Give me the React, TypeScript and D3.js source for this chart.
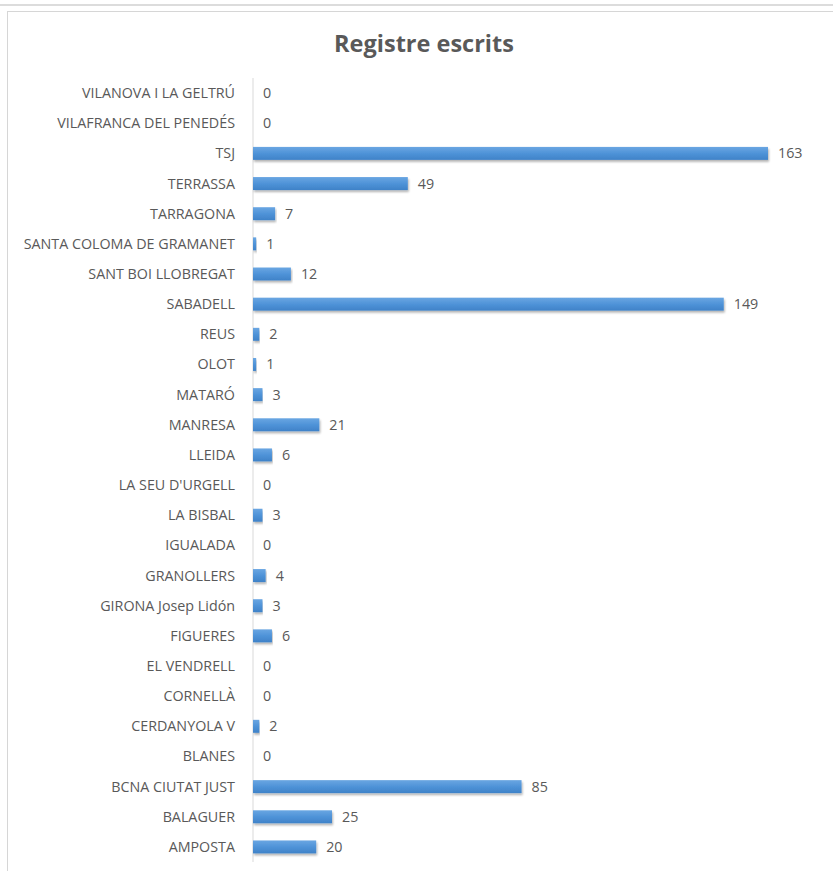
import React from "react";
import * as d3 from "d3";

const categories = [
  "VILANOVA I LA GELTRÚ",
  "VILAFRANCA DEL PENEDÉS",
  "TSJ",
  "TERRASSA",
  "TARRAGONA",
  "SANTA COLOMA DE GRAMANET",
  "SANT BOI LLOBREGAT",
  "SABADELL",
  "REUS",
  "OLOT",
  "MATARÓ",
  "MANRESA",
  "LLEIDA",
  "LA SEU D'URGELL",
  "LA BISBAL",
  "IGUALADA",
  "GRANOLLERS",
  "GIRONA Josep Lidón",
  "FIGUERES",
  "EL VENDRELL",
  "CORNELLÀ",
  "CERDANYOLA V",
  "BLANES",
  "BCNA CIUTAT JUST",
  "BALAGUER",
  "AMPOSTA",
];
const values = [0, 0, 163, 49, 7, 1, 12, 149, 2, 1, 3, 21, 6, 0, 3, 0, 4, 3, 6, 0, 0, 2, 0, 85, 25, 20];
const title = "Registre escrits";

export default function App() {
  const W = 833;
  const H = 871;
  const x0 = 253;
  const x = d3.scaleLinear().domain([0, 163]).range([x0, 768]);
  const y = d3
    .scaleBand<string>()
    .domain(categories)
    .range([78, 862])
    .paddingInner(0.57)
    .paddingOuter(0.285);
  const font = "'Open Sans', 'Liberation Sans', sans-serif";
  const textColor = "#595959";
  return (
    <svg
      width={W}
      height={H}
      style={{ position: "absolute", left: 0, top: 0, background: "#fff" }}
    >
      <defs>
        <linearGradient id="barGrad" x1="0" y1="0" x2="0" y2="1">
          <stop offset="0" stopColor="#6aa6e2" />
          <stop offset="0.5" stopColor="#4f93d8" />
          <stop offset="1" stopColor="#3f82c8" />
        </linearGradient>
        <filter id="shadow" x="-5%" y="-50%" width="110%" height="220%">
          <feGaussianBlur in="SourceAlpha" stdDeviation="1.2" />
          <feOffset dx="1" dy="2" result="b" />
          <feComponentTransfer>
            <feFuncA type="linear" slope="0.3" />
          </feComponentTransfer>
          <feMerge>
            <feMergeNode />
            <feMergeNode in="SourceGraphic" />
          </feMerge>
        </filter>
      </defs>
      <line x1={0} x2={W} y1={5} y2={5} stroke="#d0d0d0" strokeWidth={1.5} />
      <rect x={7.5} y={11.5} width={W} height={H} fill="#fff" stroke="#d6d6d6" strokeWidth={1} />
      <text
        x={424}
        y={52}
        textAnchor="middle"
        fontFamily={font}
        fontWeight="bold"
        fontSize={23.5}
        fill={textColor}
      >
        {title}
      </text>
      <line x1={x0} x2={x0} y1={78} y2={862} stroke="#d9d9d9" strokeWidth={1} />
      {categories.map((c, i) => {
        const yc = (y(c) as number) + y.bandwidth() / 2;
        const v = values[i];
        return (
          <g key={c}>
            <text
              x={235}
              y={yc}
              dy="0.35em"
              textAnchor="end"
              fontFamily={font}
              fontSize={14.3}
              fill={textColor}
            >
              {c}
            </text>
            {v > 0 && (
              <rect
                x={x0}
                y={y(c)}
                width={Math.max(x(v) - x0, 2)}
                height={y.bandwidth()}
                fill="url(#barGrad)"
                filter="url(#shadow)"
              />
            )}
            <text
              x={x(v) + 10}
              y={yc}
              dy="0.35em"
              fontFamily={font}
              fontSize={14.3}
              fill={textColor}
            >
              {v}
            </text>
          </g>
        );
      })}
    </svg>
  );
}
